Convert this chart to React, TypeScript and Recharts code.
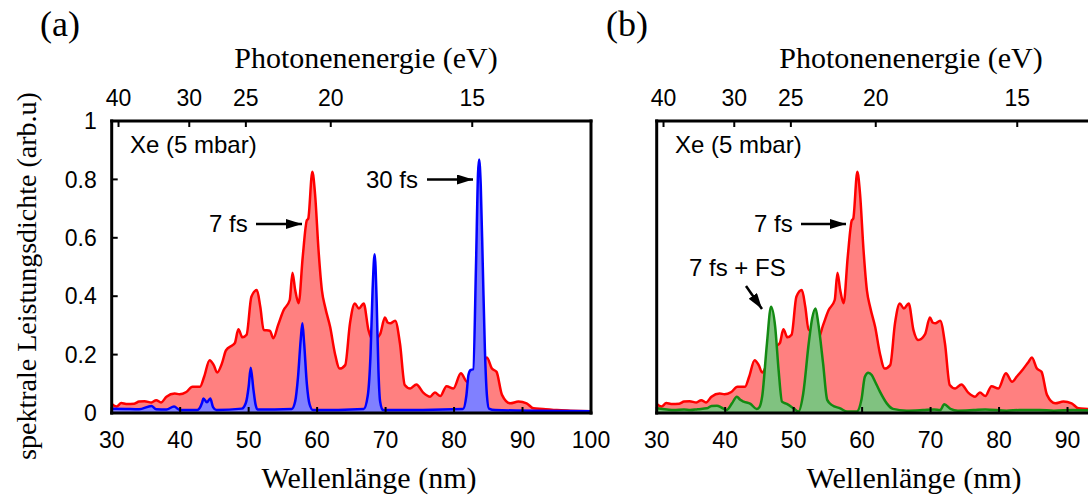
import React from "react";
import { ComposedChart, Area, XAxis, YAxis } from "recharts";

// 7 fs spectrum (red), same in both panels
const redWl = [
  30.0, 30.7, 31.4, 32.1, 33.3, 34.0, 34.8, 35.8, 36.5, 37.2, 38.0, 39.2, 39.9,
  40.9, 41.8, 42.9, 43.5, 44.3, 44.9, 45.4, 46.1, 46.7, 47.7, 48.0, 48.5, 49.1,
  49.7, 50.4, 51.2, 51.7, 52.2, 53.1, 53.6, 54.3, 55.1, 56.0, 56.4, 56.8, 57.3,
  57.9, 58.5, 58.7, 59.3, 59.7, 60.2, 60.7, 61.2, 61.9, 62.6, 63.3, 64.1, 64.8,
  65.5, 66.1, 66.8, 67.5, 68.2, 69.2, 69.9, 70.3, 70.7, 71.4, 72.1, 72.8, 73.6,
  74.5, 75.5, 76.5, 77.2, 78.0, 78.9, 79.9, 81.0, 81.9, 82.6, 83.5, 84.3, 84.8,
  85.5, 86.2, 87.0, 88.2, 89.4, 90.6, 91.6, 93.0, 95.0, 97.0, 100.0,
];
const redVal = [
  0.031, 0.022, 0.034, 0.031, 0.032, 0.039, 0.04, 0.036, 0.044, 0.036, 0.056,
  0.067, 0.064, 0.072, 0.09, 0.09, 0.124, 0.181, 0.164, 0.139, 0.17, 0.215,
  0.233, 0.24, 0.287, 0.259, 0.268, 0.398, 0.421, 0.364, 0.284, 0.282, 0.256,
  0.301, 0.352, 0.387, 0.48, 0.421, 0.376, 0.535, 0.66, 0.665, 0.826, 0.75,
  0.56, 0.42, 0.36, 0.295, 0.204, 0.152, 0.164, 0.307, 0.375, 0.358, 0.375,
  0.284, 0.25, 0.27, 0.327, 0.31, 0.307, 0.316, 0.238, 0.096, 0.084, 0.098,
  0.07, 0.056, 0.07, 0.058, 0.092, 0.084, 0.136, 0.107, 0.125, 0.15, 0.175,
  0.19, 0.153, 0.141, 0.062, 0.033, 0.039, 0.033, 0.016, 0.014, 0.01, 0.008,
  0.006,
];

// 30 fs spectrum (blue), panel (a)
const blueWl = [
  30.0, 32.0, 34.0, 35.8, 36.5, 38.0, 39.1, 40.0, 42.5, 43.2, 43.4, 43.9, 44.4,
  44.8, 45.3, 49.0, 49.6, 50.0, 50.3, 50.7, 51.0, 51.3, 56.3, 56.8, 57.2, 57.6,
  57.85, 58.1, 58.5, 58.9, 59.4, 66.8, 67.4, 67.8, 68.1, 68.4, 68.7, 68.95,
  69.2, 69.6, 81.3, 81.8, 82.1, 82.4, 82.8, 83.2, 83.5, 83.65, 83.9, 84.2,
  84.5, 84.8, 85.1, 86.0, 100.0,
];
const blueVal = [
  0.015, 0.014, 0.013, 0.024, 0.013, 0.012, 0.022, 0.01, 0.01, 0.035, 0.05,
  0.037, 0.05, 0.02, 0.01, 0.015, 0.035, 0.09, 0.155, 0.08, 0.03, 0.012, 0.014,
  0.04, 0.12, 0.25, 0.307, 0.24, 0.1, 0.03, 0.01, 0.014, 0.06, 0.2, 0.42,
  0.544, 0.38, 0.15, 0.04, 0.01, 0.014, 0.06, 0.13, 0.147, 0.15, 0.5, 0.82,
  0.868, 0.78, 0.5, 0.22, 0.06, 0.015, 0.01, 0.006,
];

// 7 fs + FS spectrum (green), panel (b)
const greenWl = [
  30.0, 31.5, 32.5, 34.0, 34.9, 36.0, 37.3, 38.0, 38.8, 39.5, 40.2, 41.0, 41.7,
  42.2, 42.7, 43.7, 44.6, 45.0, 45.4, 46.1, 46.7, 47.3, 47.8, 48.3, 49.0, 50.0,
  50.7, 51.4, 52.2, 52.7, 53.2, 53.6, 54.3, 54.9, 55.6, 56.8, 57.8, 59.2, 59.9,
  60.4, 60.9, 61.4, 61.9, 62.6, 63.6, 64.5, 66.5, 68.9, 70.5, 71.4, 72.0, 72.9,
  74.0, 76.3, 78.0, 81.1, 83.0, 85.9, 88.0, 90.8, 95.0, 100.0,
];
const greenVal = [
  0.016, 0.012, 0.01, 0.012, 0.01, 0.013, 0.016, 0.024, 0.025, 0.018, 0.01,
  0.033, 0.056, 0.045, 0.039, 0.031, 0.014, 0.02, 0.056, 0.238, 0.364, 0.296,
  0.148, 0.039, 0.031, 0.016, 0.005, 0.067, 0.238, 0.324, 0.358, 0.307, 0.17,
  0.045, 0.027, 0.016, 0.005, 0.005, 0.045, 0.124, 0.138, 0.13, 0.107, 0.073,
  0.033, 0.014, 0.008, 0.01, 0.012, 0.01, 0.03, 0.014, 0.008, 0.01, 0.012,
  0.008, 0.01, 0.01, 0.008, 0.01, 0.008, 0.008,
];

const wavelengthTicksA = [30, 40, 50, 60, 70, 80, 90, 100];
const wavelengthTicksB = [30, 40, 50, 60, 70, 80, 90]; // 100 falls outside the crop
const energyTicks = [40, 30, 25, 20, 15];
const yTicks = [0, 0.2, 0.4, 0.6, 0.8, 1];

const HC = 1239.84; // eV*nm

const toPoints = (wl: number[], val: number[]) =>
  wl.map((x, i) => ({ x, v: val[i] }));

const red = toPoints(redWl, redVal);
const blue = toPoints(blueWl, blueVal);
const green = toPoints(greenWl, greenVal);

const sans = "'Liberation Sans', Arial, sans-serif";
const serif = "'Liberation Serif', 'Times New Roman', serif";
const tickFont = { fill: "#000", fontSize: 23, fontFamily: sans };
const frame = { stroke: "#000", strokeWidth: 3, strokeLinecap: "square" as const };
const tickLine = { stroke: "#000", strokeWidth: 2 };

interface PanelProps {
  left: number;
  showYLabels: boolean;
  xTicks: number[];
  series: { data: { x: number; v: number }[]; stroke: string; fill: string }[];
}

// axes get 1px size (Recharts skips zero-sized axes), margins compensate
const Panel: React.FC<PanelProps> = ({ left, showYLabels, xTicks, series }) => (
  <div style={{ position: "absolute", left, top: 0 }}>
    <ComposedChart
      width={620}
      height={498}
      margin={{ top: 120, right: 28, bottom: 84, left: 110.7 }}
    >
      <XAxis
        xAxisId="bottom"
        dataKey="x"
        type="number"
        domain={[30, 100]}
        ticks={xTicks}
        allowDataOverflow
        height={1}
        tickSize={-6}
        tickMargin={25}
        tick={tickFont}
        axisLine={frame}
        tickLine={tickLine}
        interval={0}
      />
      <XAxis
        xAxisId="top"
        orientation="top"
        dataKey="x"
        type="number"
        domain={[30, 100]}
        ticks={energyTicks.map((e) => HC / e)}
        tickFormatter={(v: number) => String(Math.round(HC / v))}
        allowDataOverflow
        height={1}
        tickSize={-6}
        tickMargin={21}
        tick={tickFont}
        axisLine={frame}
        tickLine={tickLine}
        interval={0}
      />
      <YAxis
        yAxisId="left"
        type="number"
        domain={[0, 1]}
        ticks={yTicks}
        allowDataOverflow
        width={1}
        tickSize={-6}
        tickMargin={21}
        tick={showYLabels ? tickFont : false}
        axisLine={frame}
        tickLine={tickLine}
        interval={0}
      />
      <YAxis
        yAxisId="right"
        orientation="right"
        type="number"
        domain={[0, 1]}
        ticks={yTicks}
        allowDataOverflow
        width={1}
        tickSize={-6}
        tick={false}
        axisLine={frame}
        tickLine={tickLine}
        interval={0}
      />
      {series.map((s, i) => (
        <Area
          key={i}
          xAxisId="bottom"
          yAxisId="left"
          data={s.data}
          dataKey="v"
          type="monotone"
          stroke={s.stroke}
          strokeWidth={2.5}
          fill={s.fill}
          fillOpacity={1}
          dot={false}
          activeDot={false}
          isAnimationActive={false}
        />
      ))}
    </ComposedChart>
  </div>
);

const Arrow = ({ x1, y1, x2, y2 }: { x1: number; y1: number; x2: number; y2: number }) => (
  <line x1={x1} y1={y1} x2={x2} y2={y2} stroke="#000" strokeWidth={2.5} markerEnd="url(#ah)" />
);

const PANEL_B = 545;

export default function App() {
  return (
    <div
      style={{
        position: "relative",
        width: 1088,
        height: 498,
        overflow: "hidden",
        background: "#fff",
      }}
    >
      <style>{"body{margin:0}"}</style>
      <Panel
        left={0}
        showYLabels
        xTicks={wavelengthTicksA}
        series={[
          { data: red, stroke: "#ff0000", fill: "#ff8080" },
          { data: blue, stroke: "#0000ff", fill: "#8080ff" },
        ]}
      />
      <Panel
        left={PANEL_B}
        showYLabels={false}
        xTicks={wavelengthTicksB}
        series={[
          { data: red, stroke: "#ff0000", fill: "#ff8080" },
          { data: green, stroke: "#138a13", fill: "#80c280" },
        ]}
      />
      <svg
        width={1088}
        height={498}
        style={{ position: "absolute", left: 0, top: 0, pointerEvents: "none" }}
      >
        <defs>
          <marker
            id="ah"
            markerUnits="userSpaceOnUse"
            markerWidth={16}
            markerHeight={10}
            refX={16}
            refY={5}
            orient="auto"
          >
            <path d="M0,0 L16,5 L0,10 z" fill="#000" />
          </marker>
        </defs>
        {/* left axis title */}
        <text
          transform="translate(36,276) rotate(-90)"
          textAnchor="middle"
          fontFamily={serif}
          fontSize={28}
        >
          spektrale Leistungsdichte (arb.u)
        </text>

        {/* panel (a) */}
        <text x={40} y={36} fontFamily={serif} fontSize={36}>(a)</text>
        <text x={366} y={68} textAnchor="middle" fontFamily={serif} fontSize={30}>
          Photonenenergie (eV)
        </text>
        <text x={369} y={488} textAnchor="middle" fontFamily={serif} fontSize={30}>
          Wellenlänge (nm)
        </text>
        <text x={130} y={153} fontFamily={sans} fontSize={24}>Xe (5 mbar)</text>
        <text x={209} y={232} fontFamily={sans} fontSize={24}>7 fs</text>
        <Arrow x1={256} y1={224} x2={302} y2={224} />
        <text x={366} y={188} fontFamily={sans} fontSize={24}>30 fs</text>
        <Arrow x1={427} y1={179.5} x2={473} y2={179.5} />

        {/* panel (b) */}
        <text x={606} y={36} fontFamily={serif} fontSize={36}>(b)</text>
        <text x={366 + PANEL_B} y={68} textAnchor="middle" fontFamily={serif} fontSize={30}>
          Photonenenergie (eV)
        </text>
        <text x={369 + PANEL_B} y={488} textAnchor="middle" fontFamily={serif} fontSize={30}>
          Wellenlänge (nm)
        </text>
        <text x={130 + PANEL_B} y={153} fontFamily={sans} fontSize={24}>Xe (5 mbar)</text>
        <text x={209 + PANEL_B} y={232} fontFamily={sans} fontSize={24}>7 fs</text>
        <Arrow x1={256 + PANEL_B} y1={224} x2={301 + PANEL_B} y2={224} />
        <text x={689} y={276} fontFamily={sans} fontSize={24}>7 fs + FS</text>
        <Arrow x1={746} y1={286} x2={762} y2={309} />
      </svg>
    </div>
  );
}
